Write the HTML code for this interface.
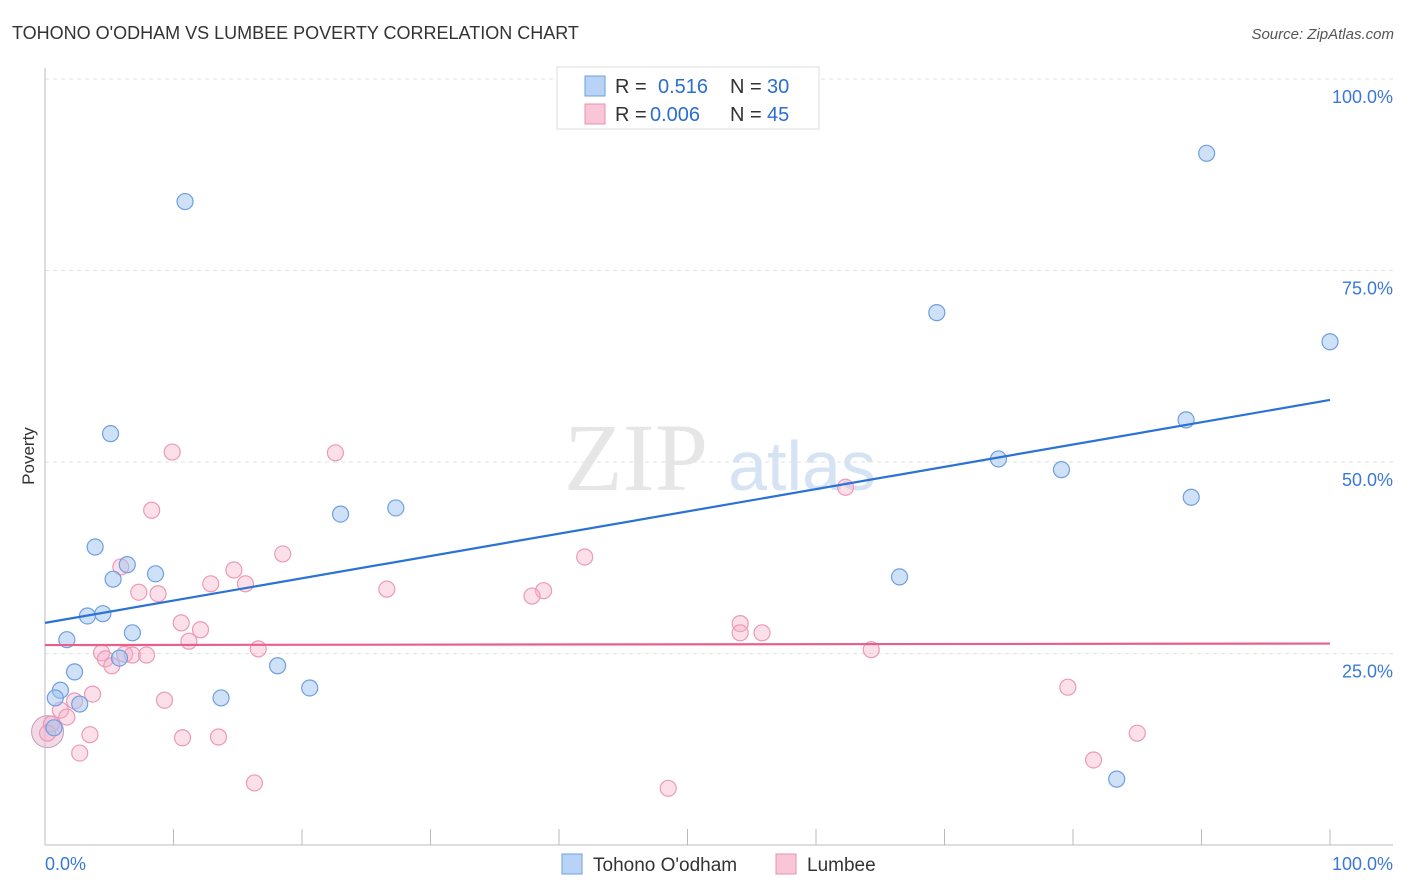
<!DOCTYPE html>
<html><head><meta charset="utf-8"><style>
body{margin:0;background:#fff;font-family:"Liberation Sans",sans-serif;}
svg{display:block}
</style></head><body>
<svg width="1406" height="892" id="chart">
<text x="12" y="39" font-size="18" fill="#333">TOHONO O'ODHAM VS LUMBEE POVERTY CORRELATION CHART</text>
<text x="1394" y="39" font-size="15" fill="#555" font-style="italic" text-anchor="end">Source: ZipAtlas.com</text>
<text x="636" y="490" font-size="96" fill="#e6e6e6" font-family="Liberation Serif" text-anchor="middle">ZIP</text>
<text x="802" y="490" font-size="70" fill="#d5e3f5" text-anchor="middle">atlas</text>
<text x="34" y="456" font-size="17" fill="#333" text-anchor="middle" transform="rotate(-90 34 456)">Poverty</text>
<g id="grid"></g><g id="marks"></g>
<g>
<rect x="557" y="67" width="262" height="62" fill="#fff" stroke="#ddd"/>
<rect x="585" y="76" width="20" height="20" fill="#b8d3f5" stroke="#6a9fe0"/>
<rect x="585" y="104" width="20" height="20" fill="#f8c6d6" stroke="#e890ad"/>
<text x="615" y="93" font-size="20" fill="#333">R = </text><text x="658" y="93" font-size="20" fill="#2a6fd0">0.516</text>
<text x="730" y="93" font-size="20" fill="#333">N = </text><text x="767" y="93" font-size="20" fill="#2a6fd0">30</text>
<text x="615" y="121" font-size="20" fill="#333">R = </text><text x="650" y="121" font-size="20" fill="#2a6fd0">0.006</text>
<text x="730" y="121" font-size="20" fill="#333">N = </text><text x="767" y="121" font-size="20" fill="#2a6fd0">45</text>
</g>
<g>
<rect x="562" y="854" width="20" height="20" fill="#b8d3f5" stroke="#6a9fe0"/>
<text x="593" y="871" font-size="19" fill="#333">Tohono O'odham</text>
<rect x="776" y="854" width="20" height="20" fill="#f8c6d6" stroke="#e890ad"/>
<text x="807" y="871" font-size="19" fill="#333">Lumbee</text>
</g>
</svg>
<script>
const blueX=[10.9,5.1,3.9,6.4,8.6,5.3,3.3,4.5,6.8,1.7,5.8,2.3,1.2,0.8,2.7,0.7,13.7,18.1,20.6,23.0,27.3,66.5,69.4,74.2,79.1,88.8,89.2,90.4,100,83.4];
const blueY=[84.0,53.7,38.9,36.6,35.4,34.7,29.9,30.2,27.7,26.8,24.4,22.6,20.2,19.2,18.4,15.3,19.2,23.4,20.5,43.2,44.0,35.0,69.5,50.4,49.0,55.5,45.4,90.3,65.7,8.6];
const pinkX=[9.9,22.6,8.3,18.5,42.0,14.7,12.9,15.6,5.9,7.3,8.8,26.6,38.8,37.9,10.6,12.1,11.2,54.1,54.1,55.8,16.6,4.4,4.7,5.2,6.2,6.8,7.9,62.3,64.3,3.7,9.3,2.3,1.2,1.7,0.5,3.5,10.7,13.5,2.7,16.3,48.5,79.6,81.6,85.0,0.2];
const pinkY=[51.3,51.2,43.7,38.0,37.6,35.9,34.1,34.1,36.3,33.0,32.8,33.4,33.2,32.5,29.0,28.1,26.6,28.9,27.7,27.7,25.6,25.1,24.3,23.4,24.9,24.8,24.8,46.7,25.5,19.7,18.9,18.8,17.6,16.7,15.8,14.4,14.0,14.1,12.0,8.1,7.4,20.6,11.1,14.6,14.6];
const blueTrend=[29.0,58.1];
const pinkTrend=[26.1,26.3];
const yTicks=[25,50,75,100];
const yTickLabels=["25.0%","50.0%","75.0%","100.0%"];
const NS="http://www.w3.org/2000/svg";
const X0=45,X1=1330,Y0=845,Y100=79;
const sx=v=>X0+(X1-X0)*v/100, sy=v=>Y0-(Y0-Y100)*v/100;
function mk(t,a,p){const e=document.createElementNS(NS,t);for(const k in a)e.setAttribute(k,a[k]);p.appendChild(e);return e;}
const g=document.getElementById('grid'),m=document.getElementById('marks');
yTicks.forEach((t,i)=>{
 const l=mk('line',{x1:45,x2:1393,y1:sy(t),y2:sy(t),stroke:'#e2e2e2','stroke-dasharray':'4,4'},g);
 
 
 const tx=mk('text',{x:1393,y:sy(t)+24,'font-size':18,fill:'#3a78d6','text-anchor':'end'},g);tx.textContent=yTickLabels[i];
 
 
});
const ax=mk('line',{x1:45,x2:45,y1:68,y2:845,stroke:'#bbb'},g);


const bx=mk('line',{x1:45,x2:1393,y1:845,y2:845,stroke:'#bbb'},g);


for(let i=0;i<=10;i++){const t=mk('line',{x1:sx(i*10),x2:sx(i*10),y1:829,y2:845,stroke:'#bbb'},g);
 
 }
const xl=mk('text',{x:45,y:870,'font-size':18,fill:'#3a78d6'},g);xl.textContent='0.0%';


const xr=mk('text',{x:1393,y:870,'font-size':18,fill:'#3a78d6','text-anchor':'end'},g);xr.textContent='100.0%';


const big=mk('circle',{cx:sx(0.2),cy:sy(14.8),r:16,fill:'rgba(230,180,205,0.5)',stroke:'#c89ac0'},m);


pinkX.forEach((v,i)=>{const c=mk('circle',{cx:sx(v),cy:sy(pinkY[i]),r:8,fill:'rgba(245,175,200,0.4)',stroke:'#ec9ab5','stroke-width':1.2},m);
 
 });
blueX.forEach((v,i)=>{const c=mk('circle',{cx:sx(v),cy:sy(blueY[i]),r:8,fill:'rgba(160,195,240,0.5)',stroke:'#6f9fe0','stroke-width':1.2},m);
 
 });
const bl=mk('line',{x1:sx(0),x2:sx(100),y1:sy(blueTrend[0]),y2:sy(blueTrend[1]),stroke:'#2a72d5','stroke-width':2.2},m);


const pl=mk('line',{x1:sx(0),x2:sx(100),y1:sy(pinkTrend[0]),y2:sy(pinkTrend[1]),stroke:'#e8608a','stroke-width':2.2},m);


</script>
</body></html>
